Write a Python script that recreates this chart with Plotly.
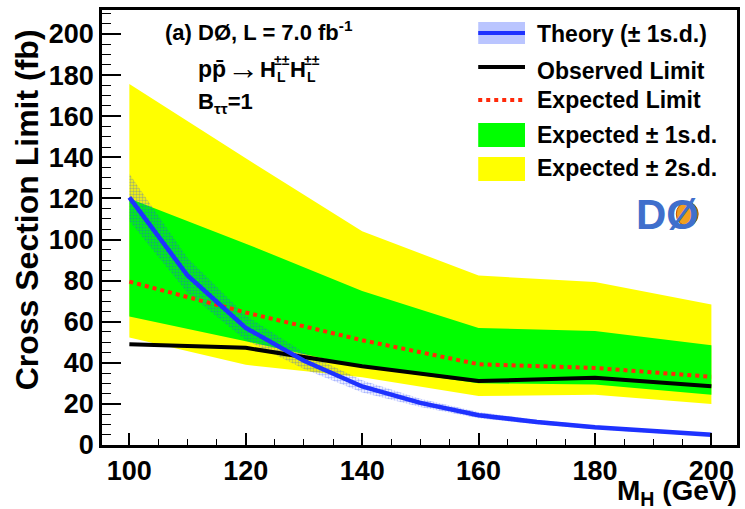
import plotly.graph_objects as go

# ---- data -------------------------------------------------------------
theory_mass = [100, 110, 120, 130, 140, 150, 160, 170, 180, 190, 200]
theory_xsec = [120.5, 82.5, 57.0, 41.0, 28.5, 20.5, 14.5, 11.2, 8.6, 6.6, 5.0]
theory_hi = [132.0, 91.0, 63.0, 45.0, 31.5, 22.5, 16.0, 12.3, 9.5, 7.3, 5.5]
theory_lo = [109.0, 74.0, 51.0, 37.0, 25.5, 18.5, 13.0, 10.1, 7.7, 5.9, 4.5]

limit_mass = [100, 120, 140, 160, 180, 200]
observed = [49.0, 47.3, 38.3, 31.1, 32.7, 28.6]
expected = [79.5, 64.5, 51.0, 39.3, 37.5, 33.2]
exp_1sd_hi = [120.0, 98.0, 75.0, 57.0, 55.5, 48.5]
exp_1sd_lo = [62.5, 50.5, 38.0, 30.0, 29.5, 24.5]
exp_2sd_hi = [175.7, 139.5, 104.0, 82.5, 79.3, 68.4]
exp_2sd_lo = [52.3, 39.0, 33.0, 23.8, 24.5, 20.0]

x_ticks = [100, 120, 140, 160, 180, 200]
y_ticks = [0, 20, 40, 60, 80, 100, 120, 140, 160, 180, 200]

# ---- styling ----------------------------------------------------------
W, H = 745, 509
ML, MR, MT, MB = 102, 5, 10, 64
FONT = "Liberation Sans"
YELLOW = "#ffff00"
GREEN = "#00ff00"
BLUE = "#1e32ff"
RED = "#ff2a0a"

def band(xs, hi, lo):
    return xs + xs[::-1], hi + lo[::-1]

fig = go.Figure()

bx, by = band(limit_mass, exp_2sd_hi, exp_2sd_lo)
fig.add_trace(go.Scatter(x=bx, y=by, fill="toself", fillcolor=YELLOW,
                         line=dict(width=0), mode="lines", hoverinfo="skip"))
bx, by = band(limit_mass, exp_1sd_hi, exp_1sd_lo)
fig.add_trace(go.Scatter(x=bx, y=by, fill="toself", fillcolor=GREEN,
                         line=dict(width=0), mode="lines", hoverinfo="skip"))
bx, by = band(theory_mass, theory_hi, theory_lo)
fig.add_trace(go.Scatter(x=bx, y=by, fill="toself", fillcolor="rgba(0,0,0,0)",
                         fillpattern=dict(shape=".", fgcolor="rgba(40,70,255,0.8)",
                                          size=3, solidity=0.5),
                         line=dict(width=0), mode="lines", hoverinfo="skip"))
fig.add_trace(go.Scatter(x=limit_mass, y=expected, mode="lines",
                         line=dict(color=RED, width=4, dash="dot")))
fig.add_trace(go.Scatter(x=limit_mass, y=observed, mode="lines",
                         line=dict(color="black", width=4)))
fig.add_trace(go.Scatter(x=theory_mass, y=theory_xsec, mode="lines",
                         line=dict(color=BLUE, width=4.5)))

axis_common = dict(
    showline=True, mirror=True, linecolor="black", linewidth=2.5,
    ticks="inside", tickcolor="black", tickwidth=1.5, showgrid=False,
    zeroline=False,
    tickfont=dict(family=FONT, size=27, color="black", weight="bold"),
)
fig.update_xaxes(range=[95.3, 204.4], tickvals=x_ticks, ticklen=12,
                 minor=dict(dtick=5, ticklen=6, ticks="inside", tickcolor="black",
                            tickwidth=1.2, showgrid=False),
                 **axis_common)
fig.update_yaxes(range=[0, 211.7], tickvals=y_ticks, ticklen=19,
                 minor=dict(dtick=5, ticklen=9, ticks="inside", tickcolor="black",
                            tickwidth=1.2, showgrid=False),
                 **axis_common)

PW, PH = W - ML - MR, H - MT - MB

def px(x):
    return (x - ML) / PW

def py(y):
    return (H - MB - y) / PH

annotations = []
shapes = []

def text(x, y, s, size=22, anchor="left", color="black", **kw):
    annotations.append(dict(x=px(x), y=py(y), xref="paper", yref="paper",
                            text=s, showarrow=False, xanchor=anchor, yanchor="middle",
                            font=dict(family=FONT, size=size, color=color, weight="bold"),
                            **kw))

# axis titles
text(742, 492, "M<sub>H</sub> (GeV)", size=28, anchor="right")
text(27, 210, "Cross Section Limit (fb)", size=32, anchor="center", textangle=-90)

# header text
text(163, 31, "(a) DØ, L = 7.0 fb<sup>-1</sup>", size=22)
text(196, 69, "pp\u0304", size=23)
text(244, 68, "\u2192", size=32, anchor="center")
text(259, 69, "H", size=22)
text(273, 60, "\u00b1\u00b1", size=14)
text(276, 77, "L", size=14)
text(289, 69, "H", size=22)
text(303, 60, "\u00b1\u00b1", size=14)
text(306, 77, "L", size=14)
text(196, 103, "B<sub>\u03c4\u03c4</sub>=1", size=22)

# legend
LX0, LX1, TX = 480, 527, 537
shapes.append(dict(type="rect", xref="paper", yref="paper",
                   x0=px(LX0), x1=px(LX1), y0=py(44), y1=py(22),
                   fillcolor="rgba(130,150,255,0.55)", line=dict(width=0)))
shapes.append(dict(type="line", xref="paper", yref="paper",
                   x0=px(LX0), x1=px(LX1), y0=py(33), y1=py(33),
                   line=dict(color=BLUE, width=4)))
text(TX, 34, "Theory (\u00b1 1s.d.)", size=23)
shapes.append(dict(type="line", xref="paper", yref="paper",
                   x0=px(LX0), x1=px(LX1), y0=py(67), y1=py(67),
                   line=dict(color="black", width=4)))
text(TX, 71, "Observed Limit", size=23)
shapes.append(dict(type="line", xref="paper", yref="paper",
                   x0=px(LX0), x1=px(LX1), y0=py(100), y1=py(100),
                   line=dict(color=RED, width=4, dash="dot")))
text(TX, 100, "Expected Limit", size=23)
shapes.append(dict(type="rect", xref="paper", yref="paper",
                   x0=px(LX0), x1=px(LX1), y0=py(147), y1=py(123),
                   fillcolor=GREEN, line=dict(width=0)))
text(TX, 135, "Expected \u00b1 1s.d.", size=23)
shapes.append(dict(type="rect", xref="paper", yref="paper",
                   x0=px(LX0), x1=px(LX1), y0=py(181), y1=py(157),
                   fillcolor=YELLOW, line=dict(width=0)))
text(TX, 168, "Expected \u00b1 2s.d.", size=23)

# experiment logo
shapes.append(dict(type="circle", xref="paper", yref="paper",
                   x0=px(679), x1=px(701), y0=py(226), y1=py(202),
                   fillcolor="#f0a020", line=dict(color="#c05000", width=1)))
text(670, 214, "DØ", size=42, anchor="center", color="#3f6fcc")

fig.update_layout(
    width=W, height=H, margin=dict(l=ML, r=MR, t=MT, b=MB),
    paper_bgcolor="white", plot_bgcolor="white", showlegend=False,
    annotations=annotations, shapes=shapes,
)

fig.write_html("out.html")
